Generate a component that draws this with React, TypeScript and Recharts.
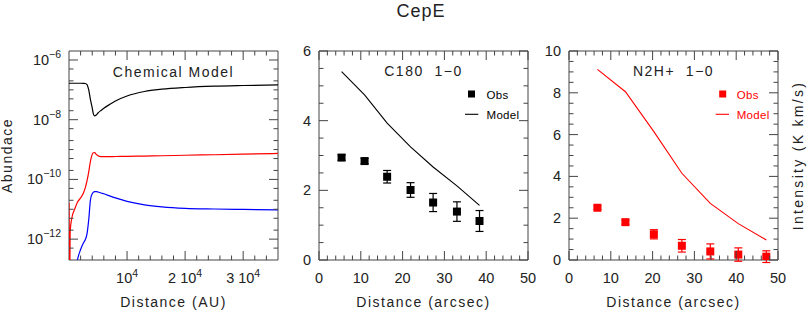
import React from 'react';
import { ComposedChart, Line, Scatter, XAxis, YAxis, ErrorBar, ReferenceArea } from 'recharts';

const FONT = '"Liberation Sans", Arial, Helvetica, sans-serif';
const AXIS = '#444';
const TXT = '#222';

// ---------- Left panel: chemical model ----------
const auDist = [0, 100, 200, 500, 1000, 1500, 2000, 2500, 2800, 3100, 3400, 3700, 4000, 4200, 4400, 4700, 5000, 5500, 6000, 7000, 8000, 10000, 13000, 16000, 20000, 25000, 30000, 36000];
const abundBlack = [1.66e-7, 1.66e-7, 1.66e-7, 1.66e-7, 1.66e-7, 1.66e-7, 1.66e-7, 1.65e-7, 1.63e-7, 1.5e-7, 9.9e-8, 4.6e-8, 2.5e-8, 1.56e-8, 1.34e-8, 1.44e-8, 1.68e-8, 2.04e-8, 2.42e-8, 3.24e-8, 4.25e-8, 6.24e-8, 8.8e-8, 1.05e-7, 1.2e-7, 1.33e-7, 1.4e-7, 1.46e-7];
const abundRed = [1.66e-11, 1e-14, 1.8e-12, 5.2e-12, 1.04e-11, 1.78e-11, 2.4e-11, 3.55e-11, 5.2e-11, 8.9e-11, 1.8e-10, 4.1e-10, 6.9e-10, 7.8e-10, 7.9e-10, 6.9e-10, 6.2e-10, 5.8e-10, 5.8e-10, 5.8e-10, 5.85e-10, 5.9e-10, 6.05e-10, 6.2e-10, 6.45e-10, 6.7e-10, 7.0e-10, 7.4e-10];
const abundBlue = [1e-14, 1e-14, 1e-14, 1.5e-14, 6e-14, 2.2e-13, 4.5e-13, 7.6e-13, 9.5e-13, 1.5e-12, 4.5e-12, 2.1e-11, 3.3e-11, 3.7e-11, 3.9e-11, 3.9e-11, 3.8e-11, 3.5e-11, 3.3e-11, 2.8e-11, 2.4e-11, 1.85e-11, 1.41e-11, 1.2e-11, 1.07e-11, 1.02e-11, 9.9e-12, 9.6e-12];

const leftXDomain = [0, 36000];
const leftXTicks = [2000, 4000, 6000, 8000, 10000, 12000, 14000, 16000, 18000, 20000, 22000, 24000, 26000, 28000, 30000, 32000, 34000];
const leftXMajor = [10000, 20000, 30000];
const leftXPrefix = ['', '2 ', '3 '];
const leftYDomain = [2e-13, 2e-6];
const leftYTicks = [5e-13, 1e-12, 2e-12, 5e-12, 1e-11, 2e-11, 5e-11, 1e-10, 2e-10, 5e-10, 1e-9, 2e-9, 5e-9, 1e-8, 2e-8, 5e-8, 1e-7, 2e-7, 5e-7, 1e-6];
const leftYMajor = [1e-12, 1e-10, 1e-8, 1e-6];
const leftYExp = ['\u221212', '\u221210', '\u22128', '\u22126'];

// ---------- Middle panel: C18O ----------
const c18oDist = [5.4, 10.9, 16.3, 21.9, 27.3, 33.0, 38.4];
const c18oObs = [2.94, 2.84, 2.39, 2.01, 1.65, 1.39, 1.12];
const c18oErr = [0.08, 0.08, 0.18, 0.21, 0.26, 0.28, 0.3];
const c18oModel = [5.41, 4.74, 3.93, 3.25, 2.67, 2.13, 1.57];

// ---------- Right panel: N2H+ ----------
const n2hDist = [6.8, 13.5, 20.3, 27.0, 33.8, 40.5, 47.2];
const n2hObs = [2.5, 1.81, 1.23, 0.68, 0.41, 0.26, 0.16];
const n2hErr = [0.08, 0.1, 0.22, 0.3, 0.36, 0.32, 0.28];
const n2hModel = [9.12, 8.05, 6.14, 4.15, 2.71, 1.74, 0.96];

const arcXDomain = [0, 50];
const arcXTicks = [0, 2, 4, 6, 8, 10, 12, 14, 16, 18, 20, 22, 24, 26, 28, 30, 32, 34, 36, 38, 40, 42, 44, 46, 48, 50];
const arcXMajor = [0, 10, 20, 30, 40, 50];
const midYDomain = [0, 6];
const midYTicks = [0, 0.5, 1, 1.5, 2, 2.5, 3, 3.5, 4, 4.5, 5, 5.5, 6];
const midYMajor = [0, 2, 4, 6];
const rightYDomain = [0, 10];
const rightYTicks = [0, 0.5, 1, 1.5, 2, 2.5, 3, 3.5, 4, 4.5, 5, 5.5, 6, 6.5, 7, 7.5, 8, 8.5, 9, 9.5, 10];
const rightYMajor = [0, 2, 4, 6, 8, 10];

// ---------- layout ----------
const W = 808;
const H = 312;
const PLOT_TOP = 51;
const PLOT_BOTTOM = 260;
const PLOT_W = 209;
const PLOT_H = PLOT_BOTTOM - PLOT_TOP;
const panelLeft = [69, 319, 569];
const MAJ = 9;
const MIN = 4.5;
const TICK_FS = 14.5;
const AX_SIZE = 1;

const toXY = (xs: number[], ys: number[], errs?: number[]) =>
  xs.map((x, i) => (errs ? { x, y: ys[i], err: errs[i] } : { x, y: ys[i] }));

const makeXTick = (majors: number[], render: (v: number, idx: number) => React.ReactNode) => (props: any) => {
  const { x, y, payload } = props;
  const v = payload.value;
  const idx = majors.indexOf(v);
  const len = idx >= 0 ? MAJ : MIN;
  return (
    <g>
      <line x1={x} y1={y} x2={x} y2={y - len} stroke={AXIS} strokeWidth={1} />
      <line x1={x} y1={y - PLOT_H} x2={x} y2={y - PLOT_H + len} stroke={AXIS} strokeWidth={1} />
      {idx >= 0 && (
        <text x={x} y={y + 23} textAnchor="middle" fontFamily={FONT} fontSize={TICK_FS} fill={TXT}>
          {render(v, idx)}
        </text>
      )}
    </g>
  );
};

const makeYTick = (majors: number[], render: (v: number, idx: number) => React.ReactNode) => (props: any) => {
  const { x, y, payload } = props;
  const v = payload.value;
  const idx = majors.indexOf(v);
  const len = idx >= 0 ? MAJ : MIN;
  return (
    <g>
      <line x1={x} y1={y} x2={x + len} y2={y} stroke={AXIS} strokeWidth={1} />
      <line x1={x + PLOT_W} y1={y} x2={x + PLOT_W - len} y2={y} stroke={AXIS} strokeWidth={1} />
      {idx >= 0 && (
        <text x={x - 8} y={y + 5} textAnchor="end" fontFamily={FONT} fontSize={TICK_FS} fill={TXT}>
          {render(v, idx)}
        </text>
      )}
    </g>
  );
};

const plainLabel = (v: number) => String(v);

const leftXTick = makeXTick(leftXMajor, (_v, idx) => (
  <>
    <tspan>{leftXPrefix[idx] + '10'}</tspan>
    <tspan dy={-6} fontSize={10.5}>4</tspan>
  </>
));
const leftYTick = makeYTick(leftYMajor, (_v, idx) => (
  <>
    <tspan>10</tspan>
    <tspan dy={-7} fontSize={10.5}>{leftYExp[idx]}</tspan>
  </>
));
const arcXTick = makeXTick(arcXMajor, plainLabel);
const midYTick = makeYTick(midYMajor, plainLabel);
const rightYTick = makeYTick(rightYMajor, plainLabel);

const square = (color: string) => (props: any) => {
  const { cx, cy } = props;
  return <rect x={cx - 4} y={cy - 4} width={8} height={8} fill={color} />;
};

const chartMargin = (i: number) => ({
  top: PLOT_TOP,
  bottom: H - PLOT_BOTTOM - AX_SIZE,
  left: panelLeft[i] - AX_SIZE,
  right: W - panelLeft[i] - PLOT_W,
});

const abs: React.CSSProperties = { position: 'absolute', left: 0, top: 0, width: W, height: H };

function LeftPanel() {
  return (
    <ComposedChart width={W} height={H} margin={chartMargin(0)}>
      <XAxis
        type="number"
        dataKey="x"
        domain={leftXDomain}
        ticks={leftXTicks}
        interval={0}
        tick={leftXTick}
        tickLine={false}
        axisLine={false}
        tickSize={0}
        tickMargin={0}
        height={AX_SIZE}
        allowDataOverflow
      />
      <YAxis
        type="number"
        dataKey="y"
        scale="log"
        domain={leftYDomain}
        ticks={leftYTicks}
        interval={0}
        tick={leftYTick}
        tickLine={false}
        axisLine={false}
        tickSize={0}
        tickMargin={0}
        width={AX_SIZE}
        allowDataOverflow
      />
      <ReferenceArea x1={leftXDomain[0]} x2={leftXDomain[1]} y1={leftYDomain[0]} y2={leftYDomain[1]} fill="none" stroke={AXIS} strokeWidth={1} ifOverflow="visible" />
      <Line data={toXY(auDist, abundBlack)} dataKey="y" type="monotone" stroke="#000000" strokeWidth={1.2} dot={false} isAnimationActive={false} />
      <Line data={toXY(auDist, abundRed)} dataKey="y" type="monotone" stroke="#ff0000" strokeWidth={1.2} dot={false} isAnimationActive={false} />
      <Line data={toXY(auDist, abundBlue)} dataKey="y" type="monotone" stroke="#0000ff" strokeWidth={1.2} dot={false} isAnimationActive={false} />
    </ComposedChart>
  );
}

function ObsPanel(props: {
  i: number;
  yDomain: number[];
  yTicks: number[];
  yTick: any;
  dist: number[];
  obs: number[];
  err: number[];
  model: number[];
  color: string;
}) {
  const { i, yDomain, yTicks, yTick, dist, obs, err, model, color } = props;
  return (
    <ComposedChart width={W} height={H} margin={chartMargin(i)}>
      <XAxis
        type="number"
        dataKey="x"
        domain={arcXDomain}
        ticks={arcXTicks}
        interval={0}
        tick={arcXTick}
        tickLine={false}
        axisLine={false}
        tickSize={0}
        tickMargin={0}
        height={AX_SIZE}
        allowDataOverflow
      />
      <YAxis
        type="number"
        dataKey="y"
        domain={yDomain}
        ticks={yTicks}
        interval={0}
        tick={yTick}
        tickLine={false}
        axisLine={false}
        tickSize={0}
        tickMargin={0}
        width={AX_SIZE}
        allowDataOverflow
      />
      <ReferenceArea x1={arcXDomain[0]} x2={arcXDomain[1]} y1={yDomain[0]} y2={yDomain[1]} fill="none" stroke={AXIS} strokeWidth={1} ifOverflow="visible" />
      <Line data={toXY(dist, model)} dataKey="y" type="linear" stroke={color} strokeWidth={1.1} dot={false} isAnimationActive={false} />
      <Scatter data={toXY(dist, obs, err)} dataKey="y" shape={square(color)} isAnimationActive={false}>
        <ErrorBar dataKey="err" direction="y" width={4} stroke={color} strokeWidth={1.2} isAnimationActive={false} />
      </Scatter>
    </ComposedChart>
  );
}

function Overlay() {
  const label = { fontFamily: FONT, fontSize: 14, fill: TXT, letterSpacing: 1.5 } as const;
  const legend = { fontFamily: FONT, fontSize: 11.5, letterSpacing: 0.3 } as const;
  const cx = (i: number) => panelLeft[i] + PLOT_W / 2;
  const cy = (PLOT_TOP + PLOT_BOTTOM) / 2;
  return (
    <svg width={W} height={H} style={{ ...abs, pointerEvents: 'none' }}>
      <text x={421} y={16.7} textAnchor="middle" fontFamily={FONT} fontSize={18} fill={TXT} letterSpacing={1}>CepE</text>

      <text x={cx(0)} y={76.5} textAnchor="middle" {...label}>Chemical Model</text>
      <text x={cx(1)} y={76} textAnchor="middle" {...label} style={{ whiteSpace: 'pre' }}>{'C180  1\u22120'}</text>
      <text x={cx(2)} y={76} textAnchor="middle" {...label} style={{ whiteSpace: 'pre' }}>{'N2H+  1\u22120'}</text>

      <text x={cx(0)} y={307} textAnchor="middle" {...label}>Distance (AU)</text>
      <text x={cx(1)} y={307} textAnchor="middle" {...label}>Distance (arcsec)</text>
      <text x={cx(2)} y={307} textAnchor="middle" {...label}>Distance (arcsec)</text>

      <text x={11.5} y={cy} textAnchor="middle" transform={`rotate(-90 11.5 ${cy})`} {...label}>Abundace</text>
      <text x={803} y={cy} textAnchor="middle" transform={`rotate(-90 803 ${cy})`} {...label} letterSpacing={2.3}>Intensity (K km/s)</text>

      {/* middle legend */}
      <rect x={468} y={90.5} width={7} height={7} fill="#000" />
      <text x={486.5} y={98.5} {...legend} fill="#000">Obs</text>
      <line x1={465} y1={114.3} x2={478.3} y2={114.3} stroke="#000" strokeWidth={1.1} />
      <text x={486.5} y={118.5} {...legend} fill="#000">Model</text>

      {/* right legend */}
      <rect x={719.2} y={90.5} width={7} height={7} fill="#ff0000" />
      <text x={736.7} y={98.5} {...legend} fill="#ff0000">Obs</text>
      <line x1={715.7} y1={114.3} x2={729} y2={114.3} stroke="#ff0000" strokeWidth={1.1} />
      <text x={736.7} y={118.5} {...legend} fill="#ff0000">Model</text>
    </svg>
  );
}

export default function App() {
  return (
    <div style={{ ...abs, background: '#fff' }}>
      <div style={abs}>
        <LeftPanel />
      </div>
      <div style={abs}>
        <ObsPanel i={1} yDomain={midYDomain} yTicks={midYTicks} yTick={midYTick} dist={c18oDist} obs={c18oObs} err={c18oErr} model={c18oModel} color="#000000" />
      </div>
      <div style={abs}>
        <ObsPanel i={2} yDomain={rightYDomain} yTicks={rightYTicks} yTick={rightYTick} dist={n2hDist} obs={n2hObs} err={n2hErr} model={n2hModel} color="#ff0000" />
      </div>
      <Overlay />
    </div>
  );
}
